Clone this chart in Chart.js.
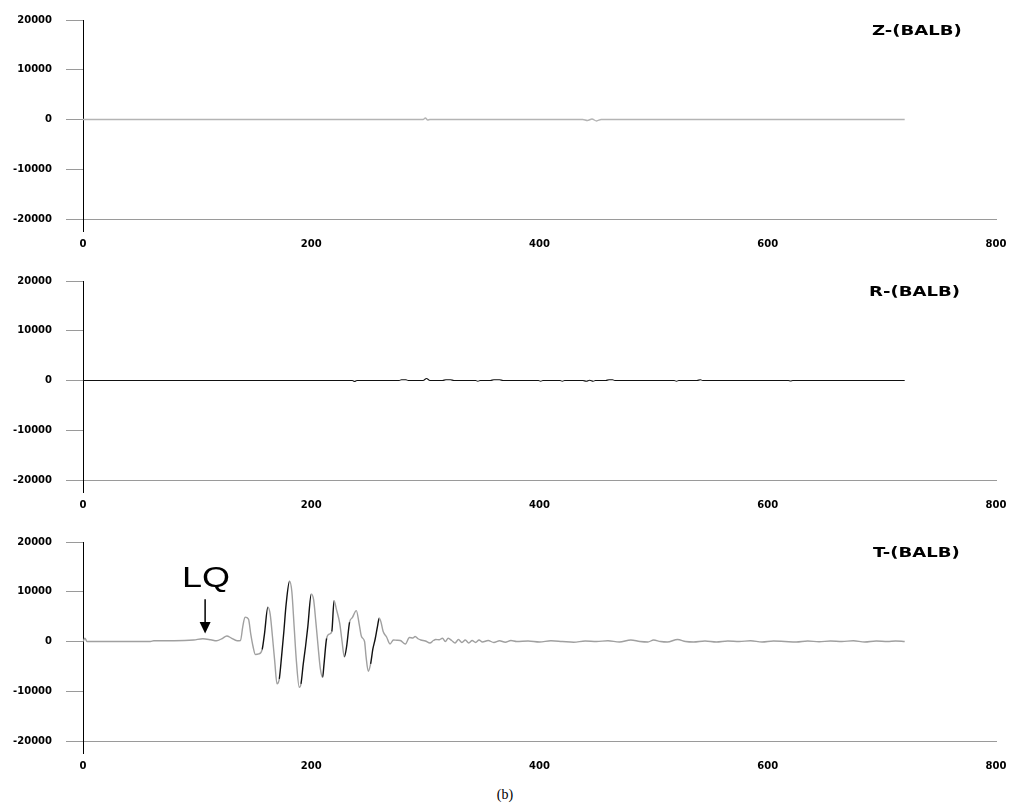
<!DOCTYPE html>
<html>
<head>
<meta charset="utf-8">
<script src="https://cdn.jsdelivr.net/npm/chart.js@4.4.1/dist/chart.umd.min.js"></script>
<style>
  html, body { margin: 0; padding: 0; background: #fff; }
  body { width: 1014px; height: 807px; position: relative; overflow: hidden; }
  canvas { position: absolute; left: 0; }
  .ttl { position: absolute; font-family: "DejaVu Sans", sans-serif; font-weight: bold; font-size: 14px; line-height: 14px; color: #000; transform: scaleX(1.29); transform-origin: left top; white-space: nowrap; }
  .lq { position: absolute; left: 182px; top: 562px; font-family: "Liberation Sans", Arial, sans-serif; font-size: 30px; line-height: 30px; color: #000; transform: scaleX(1.2); transform-origin: left top; }
  .cap { position: absolute; left: 505px; top: 788px; transform: translateX(-50%); font-family: "Liberation Serif", "Times New Roman", serif; font-size: 14px; line-height: 14px; color: #000; }
</style>
</head>
<body>
<canvas id="c1" width="1014" height="261" style="top:0px"></canvas>
<canvas id="c2" width="1014" height="261" style="top:261px"></canvas>
<canvas id="c3" width="1014" height="261" style="top:522px"></canvas>
<div class="ttl" style="left:872px; top:23px">Z-(BALB)</div>
<div class="ttl" style="left:869px; top:284px">R-(BALB)</div>
<div class="ttl" style="left:873px; top:545px">T-(BALB)</div>
<div class="lq">LQ</div>
<div class="cap">(b)</div>
<script>
// ---- data ----
const xTicks = [0, 200, 400, 600, 800];
const yTicks = [-20000, -10000, 0, 10000, 20000];
const panelTitles = ["Z-(BALB)", "R-(BALB)", "T-(BALB)"];

const zTime = [0, 298, 300, 302, 304, 438, 442, 446, 450, 454, 720];
const zVal  = [0, 0, 300, -100, 0, 0, -200, 100, -300, 0, 0];

const rTime = [0, 236, 238, 240, 277, 279, 283, 285, 298, 301, 304, 315, 318, 322, 325, 344, 346, 348, 357, 360, 365, 368, 399, 401, 403, 418, 420, 422, 438, 441, 444, 447, 449, 458, 461, 464, 466, 518, 520, 522, 538, 541, 543, 618, 620, 622, 720];
const rVal  = [0, 0, -200, 0, 0, 150, 150, 0, 0, 400, 0, 0, 150, 150, 0, 0, -150, 0, 0, 150, 150, 0, 0, -150, 0, 0, -150, 0, 0, -150, 50, -150, 0, 0, 150, 150, 0, 0, -150, 0, 0, 150, 0, 0, -100, 0, 0];

const tTime = [0, 1.7, 3.5, 59, 62, 80, 97, 105, 112, 117, 122, 126, 130, 135, 138, 140, 142, 145, 147, 149, 151, 154, 157, 159, 162, 164, 166, 168, 170, 172, 174, 176, 178, 181, 183, 185, 187, 189.5, 191, 193, 195, 197, 200, 202, 204, 206, 208, 210, 211, 213.5, 216, 218, 220, 222, 225, 227, 229, 231, 233.6, 236, 239.5, 242, 244, 246.7, 248, 250, 252, 254, 256, 258, 259.6, 261, 263, 266, 269, 272, 275, 278, 282.5, 286, 289, 291, 294, 296, 300, 304, 307, 309, 312, 315, 317.5, 320, 323, 326, 329, 332, 335, 338, 341, 344, 347, 350, 355, 360, 365, 370, 375, 380, 390, 400, 410, 420, 430, 440, 450, 460, 470, 480, 488, 495, 500, 506, 512, 521, 528, 535, 545, 555, 565, 575, 585, 595, 605, 615, 625, 635, 645, 655, 665, 675, 685, 695, 705, 712, 720];
const tVal  = [0, 650, 0, 0, 150, 150, 300, 550, 350, 150, 600, 1100, 700, 150, 200, 3000, 4900, 4500, 1500, -1000, -2600, -2500, -1600, 1500, 6900, 5500, 1000, -4000, -8500, -7500, -3000, 2000, 7500, 12100, 10000, 3000, -4000, -9200, -8500, -4500, -1000, 3000, 9500, 8500, 4000, -1000, -5500, -7200, -5000, 650, 1500, 2000, 8200, 6500, 3600, 0, -3100, -1000, 3900, 4800, 6200, 3500, 1000, 0, -3000, -6000, -4500, -1500, 500, 3000, 4700, 4000, 2000, 900, -500, 300, 250, 200, -500, 800, 700, 1000, 500, 300, 100, -300, 200, 400, 350, 650, 0, 650, 200, -300, 400, -200, 300, -300, 200, -200, 300, -100, 200, -200, 150, -150, 200, 0, 100, -100, 150, 0, -150, 100, 0, 150, -100, 300, 0, -100, 300, 0, -100, 400, 0, -100, 100, -100, 100, 0, 150, -100, 100, 0, -100, 100, -50, 100, 0, 150, -100, 100, 0, 100, 0];

const lqArrow = { x: 107, yTop: 8500, yTip: 1600, yHeadBase: 3900 };

function pts(ts, vs) { return ts.map((t, i) => ({ x: t, y: vs[i] })); }

const tickFont = { family: "DejaVu Sans", weight: "bold", size: 10 };

function makeOptions() {
  return {
    responsive: false,
    animation: false,
    devicePixelRatio: 1,
    layout: { padding: { top: 16, right: 18, left: 0, bottom: 0 } },
    plugins: { legend: { display: false }, tooltip: { enabled: false }, title: { display: false } },
    elements: { point: { radius: 0 } },
    scales: {
      x: {
        type: "linear", min: 0, max: 800,
        afterBuildTicks: s => { s.ticks = xTicks.map(v => ({ value: v })); },
        afterFit: s => { s.height = 42; },
        border: { display: true, color: "#9a9a9a", width: 1 },
        grid: { display: true, drawOnChartArea: false, drawTicks: true, tickLength: 13,
                color: c => (c.tick && c.tick.value === 0) ? "#000" : "rgba(0,0,0,0)" },
        ticks: { color: "#000", font: tickFont, padding: 6, maxRotation: 0, autoSkip: false, callback: v => String(v) }
      },
      y: {
        type: "linear", min: -20000, max: 20000,
        afterBuildTicks: s => { s.ticks = yTicks.map(v => ({ value: v })); },
        afterFit: s => { s.width = 83; },
        border: { display: true, color: "#000", width: 1 },
        grid: { display: true, drawOnChartArea: false, drawTicks: true, tickLength: 17, color: "#9a9a9a" },
        ticks: { color: "#000", font: tickFont, padding: 14, callback: v => String(v) }
      }
    }
  };
}

new Chart(document.getElementById("c1"), {
  type: "line",
  data: { datasets: [{ label: panelTitles[0], data: pts(zTime, zVal), borderColor: "#b4b4b4", borderWidth: 1.4, pointRadius: 0, cubicInterpolationMode: "monotone", fill: false }] },
  options: makeOptions()
});

new Chart(document.getElementById("c2"), {
  type: "line",
  data: { datasets: [{ label: panelTitles[1], data: pts(rTime, rVal), borderColor: "#111", borderWidth: 1.1, pointRadius: 0, cubicInterpolationMode: "monotone", fill: false }] },
  options: makeOptions()
});

const arrowPlugin = {
  id: "lqArrow",
  afterDatasetsDraw(chart) {
    const { ctx, scales: { x, y } } = chart;
    const px = x.getPixelForValue(lqArrow.x);
    const yT = y.getPixelForValue(lqArrow.yTop);
    const yTip = y.getPixelForValue(lqArrow.yTip);
    const yB = y.getPixelForValue(lqArrow.yHeadBase);
    ctx.save();
    ctx.strokeStyle = "#000"; ctx.fillStyle = "#000"; ctx.lineWidth = 1.5;
    ctx.beginPath(); ctx.moveTo(px, yT); ctx.lineTo(px, yB + 1); ctx.stroke();
    ctx.beginPath(); ctx.moveTo(px - 5.5, yB); ctx.lineTo(px + 5.5, yB); ctx.lineTo(px, yTip); ctx.closePath(); ctx.fill();
    ctx.restore();
  }
};

new Chart(document.getElementById("c3"), {
  type: "line",
  data: { datasets: [{ label: panelTitles[2], data: pts(tTime, tVal), borderColor: "#a0a0a0", borderWidth: 1.4, pointRadius: 0, cubicInterpolationMode: "monotone", fill: false,
    segment: { borderColor: c => (c.p0.parsed.x > 150 && c.p1.parsed.y - c.p0.parsed.y > 1500) ? "#111" : "#a0a0a0" } }] },
  options: makeOptions(),
  plugins: [arrowPlugin]
});
</script>
</body>
</html>
